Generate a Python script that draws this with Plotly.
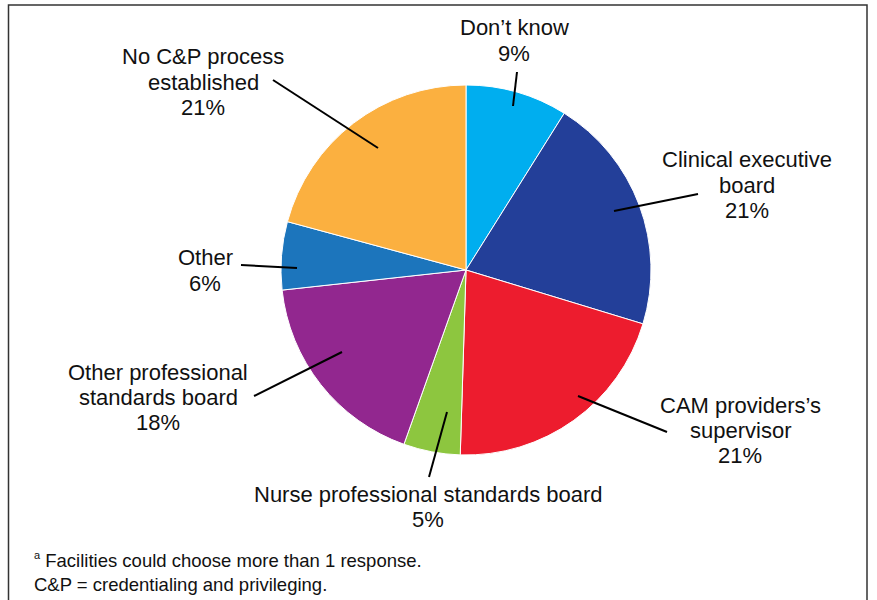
import plotly.graph_objects as go

# ---- data ----
categories = [
    "Don’t know",
    "Clinical executive board",
    "CAM providers’s supervisor",
    "Nurse professional standards board",
    "Other professional standards board",
    "Other",
    "No C&P process established",
]
values = [9, 21, 21, 5, 18, 6, 21]
label_lines = [
    ["Don’t know"],
    ["Clinical executive", "board"],
    ["CAM providers’s", "supervisor"],
    ["Nurse professional standards board"],
    ["Other professional", "standards board"],
    ["Other"],
    ["No C&P process", "established"],
]
footnotes = [
    "<sup><span style='font-size:11px'>a</span></sup> Facilities could choose more than 1 response.",
    "C&P = credentialing and privileging.",
]

# ---- style / layout ----
W, H = 877, 600
colors = ["#00AEEF", "#233F99", "#ED1C2E", "#8DC63F", "#92278F", "#1C75BC", "#FBB040"]
FONT = "Liberation Sans, Arial, sans-serif"
LABEL_SIZE = 22
FOOT_SIZE = 18.5
LINE_GAP = 25
cx, cy, R = 466, 270, 185

# label first-line centre (px) and leader-line endpoints (px)
label_pos = [(514, 28), (747, 160), (740, 405), (428, 494), (158, 372), (205, 258), (203, 57)]
leaders = [
    ((513, 106), (517, 72)),
    ((614, 211), (698, 194)),
    ((578, 396), (667, 432)),
    ((447, 412), (429, 477)),
    ((342, 352), (254, 396)),
    ((297, 268), (241, 265)),
    ((378, 148), (273, 80)),
]


def px(x):
    return x / W


def py(y):
    return 1 - y / H


fig = go.Figure(
    go.Pie(
        labels=categories,
        values=values,
        sort=False,
        direction="clockwise",
        rotation=0,
        marker=dict(colors=colors, line=dict(color="white", width=1)),
        textinfo="none",
        hovertemplate="%{label}: %{value}%<extra></extra>",
        showlegend=False,
        domain=dict(x=[px(cx - R), px(cx + R)], y=[py(cy + R), py(cy - R)]),
    )
)

annotations = []
for lines, v, (lx, ly) in zip(label_lines, values, label_pos):
    all_lines = lines + [f"{v}%"]
    for i, t in enumerate(all_lines):
        annotations.append(
            dict(
                x=px(lx), y=py(ly + i * LINE_GAP), xref="paper", yref="paper",
                text=t, showarrow=False, xanchor="center", yanchor="middle",
                font=dict(family=FONT, size=LABEL_SIZE, color="#111111"),
            )
        )

for i, t in enumerate(footnotes):
    annotations.append(
        dict(
            x=px(32), y=py(560 + i * 24), xref="paper", yref="paper",
            text=t, showarrow=False, xanchor="left", yanchor="middle",
            font=dict(family=FONT, size=FOOT_SIZE, color="#111111"),
        )
    )

shapes = []
for (a, b) in leaders:
    shapes.append(
        dict(type="line", xref="paper", yref="paper",
             x0=px(a[0]), y0=py(a[1]), x1=px(b[0]), y1=py(b[1]),
             line=dict(color="black", width=2))
    )
# frame
shapes.append(
    dict(type="rect", xref="paper", yref="paper",
         x0=px(8.5), x1=px(867), y0=py(5), y1=py(640),
         line=dict(color="#333333", width=1.5), fillcolor="rgba(0,0,0,0)")
)

fig.update_layout(
    width=W, height=H,
    margin=dict(l=0, r=0, t=0, b=0),
    paper_bgcolor="white", plot_bgcolor="white",
    annotations=annotations, shapes=shapes,
)

fig.write_html(
    "out.html",
    config={"displayModeBar": False},
    post_script="document.body.style.margin='0';document.body.style.overflow='hidden';",
)
